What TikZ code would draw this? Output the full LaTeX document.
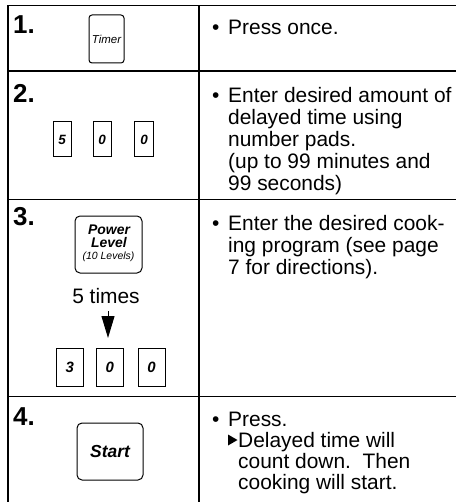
\documentclass[tikz,border=0pt]{standalone}
\usepackage{fontspec}
\setmainfont{Liberation Sans}
\usetikzlibrary{arrows.meta}
\begin{document}
\begin{tikzpicture}[x=1bp,y=-1bp,
  rule/.style={line width=1.4bp},
  num/.style={font=\fontsize{26}{26}\selectfont\bfseries, anchor=north west, inner sep=0pt},
  body/.style={font=\fontsize{21}{22}\selectfont, anchor=base west, inner sep=0pt},
  key/.style={draw, line width=1bp, rounded corners=5bp, inner sep=0pt},
  pad/.style={draw, line width=1bp, inner sep=0pt, font=\fontsize{13.5}{13.5}\selectfont\bfseries\itshape},
  padb/.style={pad, minimum width=27bp, minimum height=38bp, font=\fontsize{15}{15}\selectfont\bfseries\itshape},
  klab/.style={anchor=base, inner sep=0pt},
]
\useasboundingbox (0,0) rectangle (456,502);
% table rules
\draw[rule] (8,5.5) -- (456,5.5);
\draw[rule] (8,71) -- (456,71);
\draw[rule] (8,199.5) -- (456,199.5);
\draw[rule] (8,396.5) -- (456,396.5);
\draw[rule] (8,5.5) -- (8,502);
\draw[rule] (199,5.5) -- (199,502);
% step numbers
\node[num] (n1) at (13,15) {1.};
\node[num] (n2) at (13,84) {2.};
\node[num] (n3) at (13,207) {3.};
\node[num] (n4) at (13,407) {4.};
% row 1
\node[key, rounded corners=3bp, minimum width=35bp, minimum height=48bp,
  font=\fontsize{11.5}{11.5}\selectfont\itshape] (timer) at (106.5,39) {Timer};
\node[body] (b1) at (212,35) {•};
\node[body] (t1) at (228,35) {Press once.};
% row 2
\node[pad, minimum width=18bp, minimum height=35bp] (p5) at (62,139.5) {5};
\node[pad, minimum width=18bp, minimum height=35bp] (p0a) at (102,139.5) {0};
\node[pad, minimum width=19bp, minimum height=35bp] (p0b) at (144,139.5) {0};
\node[body] (b2) at (212,103) {•};
\node[body] (t2a) at (228,103) {Enter desired amount of};
\node[body] (t2b) at (228,125) {delayed time using};
\node[body] (t2c) at (228,147) {number pads.};
\node[body] (t2d) at (228,169) {(up to 99 minutes and};
\node[body] (t2e) at (228,191) {99 seconds)};
% row 3
\node[key, minimum width=67bp, minimum height=57bp] (power) at (108.5,244.5) {};
\node[klab, font=\fontsize{14}{14}\selectfont\bfseries\itshape] (pwA) at (109,234.5) {Power};
\node[klab, font=\fontsize{14}{14}\selectfont\bfseries\itshape] (pwB) at (109,247) {Level};
\node[klab, font=\fontsize{10.5}{10.5}\selectfont\itshape] (pwC) at (108.5,259.5) {(10 Levels)};
\node[klab, font=\fontsize{21}{21}\selectfont] (times) at (106,303) {5 times};
\coordinate (arrA) at (108,311);
\coordinate (arrB) at (108,338);
\draw[line width=1bp, -{Triangle[width=13bp,length=22bp]}] (arrA) -- (arrB);
\node[padb] (p3) at (69.7,367) {3};
\node[padb] (p0c) at (109.7,367) {0};
\node[padb] (p0d) at (151.5,367) {0};
\node[body] (b3) at (212,230) {•};
\node[body] (t3a) at (228,230) {Enter the desired cook-};
\node[body] (t3b) at (228,252) {ing program (see page};
\node[body] (t3c) at (228,274) {7 for directions).};
% row 4
\node[key, minimum width=66bp, minimum height=57bp,
  font=\fontsize{17.5}{17.5}\selectfont\bfseries\itshape] (start) at (110,451.5) {Start};
\node[body] (b4) at (212,426) {•};
\node[body] (t4a) at (228,426) {Press.};
\fill (228,434.5) -- (237.5,440) -- (228,445.5) -- cycle;
\node[body] (t4b) at (238,447) {Delayed time will};
\node[body] (t4c) at (238,468) {count down.\ \ Then};
\node[body] (t4d) at (238,489) {cooking will start.};
\end{tikzpicture}
\end{document}
